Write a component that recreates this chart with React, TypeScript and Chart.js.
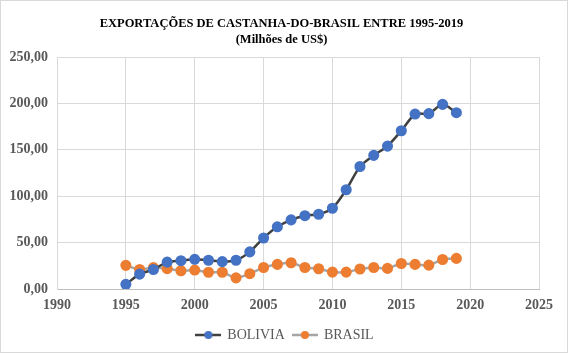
import React, { useEffect, useRef } from "react";
import { Chart, registerables } from "chart.js";

Chart.register(...registerables);

const years: number[] = [1995, 1996, 1997, 1998, 1999, 2000, 2001, 2002, 2003, 2004, 2005, 2006, 2007, 2008, 2009, 2010, 2011, 2012, 2013, 2014, 2015, 2016, 2017, 2018, 2019];
const bolivia: number[] = [5, 16, 21, 29, 30.5, 32, 31, 29.5, 31, 40, 55, 67, 74.5, 79, 80.5, 87, 107, 132, 144, 154, 170.5, 188.5, 189, 199, 190];
const brasil: number[] = [25.5, 21, 23, 22, 19.7, 20.4, 18, 18, 12, 16.5, 23.2, 26.5, 28.3, 23.2, 21.8, 18.2, 18.2, 21.5, 23.2, 22.2, 27.5, 26.5, 25.7, 31.8, 33];
const seriesNames: string[] = ["BOLIVIA", "BRASIL"];
const titleLines: string[] = ["EXPORTAÇÕES DE CASTANHA-DO-BRASIL ENTRE 1995-2019", "(Milhões de US$)"];

const FONT = "'Liberation Serif', 'Times New Roman', serif";

function legendIcon(line: string, dot: string): HTMLCanvasElement {
  const c = document.createElement("canvas");
  c.width = 26;
  c.height = 10;
  const ctx = c.getContext("2d")!;
  ctx.strokeStyle = line;
  ctx.lineWidth = 2.5;
  ctx.beginPath();
  ctx.moveTo(0, 5);
  ctx.lineTo(26, 5);
  ctx.stroke();
  ctx.fillStyle = dot;
  ctx.beginPath();
  ctx.arc(13, 5, 4, 0, Math.PI * 2);
  ctx.fill();
  return c;
}

const shiftPlugin = {
  id: "shiftBoxes",
  afterLayout(chart: any) {
    if (chart.titleBlock) chart.titleBlock.left += 23;
    if (chart.legend) chart.legend.left += 30;
  },
};

export default function App() {
  const ref = useRef<HTMLCanvasElement>(null);
  useEffect(() => {
    document.body.style.margin = "0";
    const icons = [legendIcon("#404040", "#4472C4"), legendIcon("#A5A5A5", "#ED7D31")];
    const chart = new Chart(ref.current!, {
      type: "line",
      data: {
        datasets: [
          {
            label: seriesNames[0],
            data: years.map((x, i) => ({ x, y: bolivia[i] })),
            borderColor: "#404040",
            borderWidth: 2.5,
            pointBackgroundColor: "#4472C4",
            pointBorderColor: "#4472C4",
            pointRadius: 4.3,
            tension: 0.25,
          },
          {
            label: seriesNames[1],
            data: years.map((x, i) => ({ x, y: brasil[i] })),
            borderColor: "#A5A5A5",
            borderWidth: 2.5,
            pointBackgroundColor: "#ED7D31",
            pointBorderColor: "#ED7D31",
            pointRadius: 4.3,
            tension: 0.25,
          },
        ],
      },
      plugins: [shiftPlugin],
      options: {
        animation: false,
        responsive: false,
        maintainAspectRatio: false,
        layout: { padding: { left: 0, right: 28, top: 0, bottom: 0 } },
        plugins: {
          title: {
            display: true,
            text: titleLines,
            color: "#000000",
            font: { family: FONT, size: 12.5, weight: "bold", lineHeight: 1.25 },
            padding: { top: 15, bottom: 9.75 },
          },
          legend: {
            position: "bottom",
            labels: {
              color: "#595959",
              font: { family: FONT, size: 14 },
              usePointStyle: true,
              pointStyleWidth: 24,
              boxHeight: 10,
              padding: 8,
              generateLabels: (c: any) =>
                Chart.defaults.plugins.legend.labels.generateLabels(c).map((l: any, i: number) => ({
                  ...l,
                  pointStyle: icons[i],
                })),
            },
          },
          tooltip: { enabled: false },
        },
        scales: {
          x: {
            type: "linear",
            min: 1990,
            max: 2025,
            ticks: {
              stepSize: 5,
              color: "#595959",
              font: { family: FONT, size: 14, weight: "bold" },
              padding: 8,
              maxRotation: 0,
              callback: (v: any) => String(v),
            },
            grid: { color: "#d9d9d9", drawTicks: false },
            border: { color: "#bfbfbf" },
            afterFit: (s: any) => {
              s.height = 31;
            },
          },
          y: {
            min: 0,
            max: 250,
            ticks: {
              stepSize: 50,
              color: "#595959",
              font: { family: FONT, size: 14, weight: "bold" },
              padding: 9,
              callback: (v: any) => Number(v).toFixed(2).replace(".", ","),
            },
            grid: { color: "#d9d9d9", drawTicks: false },
            border: { color: "#d9d9d9" },
            afterFit: (s: any) => {
              s.width = 56;
            },
          },
        },
      },
    });
    return () => chart.destroy();
  }, []);
  return (
    <div style={{ width: 568, height: 353, border: "1px solid #d9d9d9", boxSizing: "border-box", background: "#fff" }}>
      <canvas ref={ref} width={566} height={351} style={{ display: "block" }} />
    </div>
  );
}
